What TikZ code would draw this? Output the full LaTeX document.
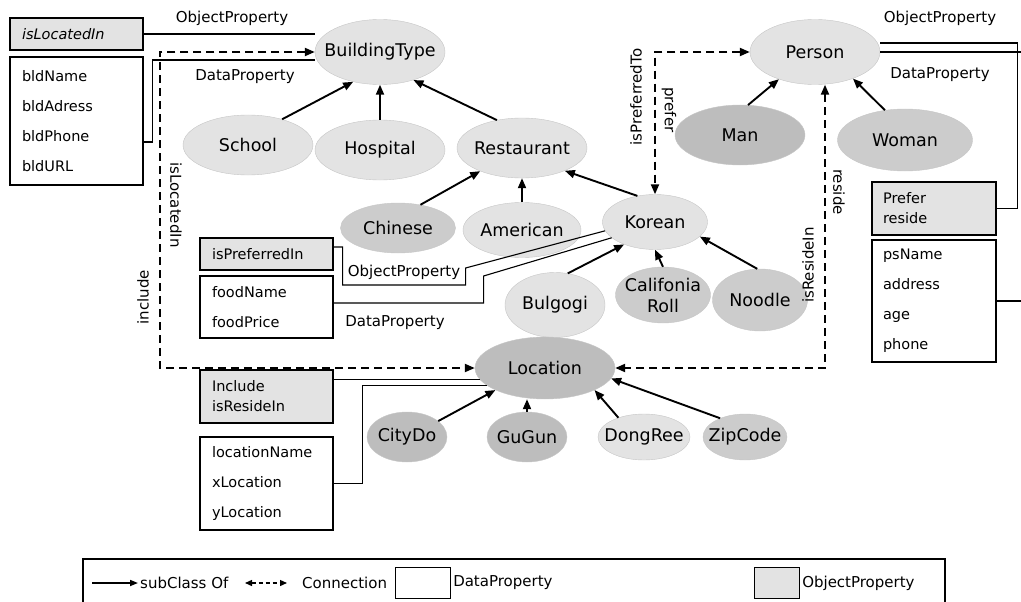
\documentclass[tikz,border=0pt]{standalone}
\usepackage{fontspec}
\setmainfont{DejaVu Sans}
\usetikzlibrary{shapes.geometric,arrows.meta,positioning}
\colorlet{clsLight}{gray!22}
\colorlet{clsMid}{gray!40}
\colorlet{clsDark}{gray!52}
\colorlet{objGray}{gray!22}
\tikzset{
  cls/.style n args={3}{ellipse,inner xsep=-70pt,inner ysep=0pt,draw=gray!45,fill=#1,
    minimum width=#2,minimum height=#3,align=center,
    font=\fontsize{17.5}{20}\selectfont},
  propbox/.style={draw,line width=1.2pt,align=left,inner xsep=12pt,
    text width=109pt,font=\fontsize{14.5}{30}\selectfont},
  objbox/.style={propbox,fill=objGray},
  databox/.style={propbox,fill=white},
  lbl/.style={inner sep=1pt,font=\fontsize{15}{17}\selectfont},
  subclass/.style={line width=1.9pt,-{Triangle[length=10pt,width=8pt]}},
  connect/.style={line width=2.1pt,dash pattern=on 8pt off 5pt,
    {Triangle[length=10pt,width=8pt]}-{Triangle[length=10pt,width=8pt]}},
  propline/.style={line width=1.1pt},
}

\begin{document}
\begin{tikzpicture}[x=1pt,y=-1pt]
\useasboundingbox (0,0) rectangle (1021,602);
\clip (0,0) rectangle (1021,602);

\node[cls={clsLight}{130pt}{65pt}] (bt) at (380,52) {BuildingType};
\node[cls={clsLight}{130pt}{60pt}] (school) at (248,145) {School};
\node[cls={clsLight}{130pt}{60pt}] (hospital) at (380,150) {Hospital};
\node[cls={clsLight}{130pt}{60pt}] (restaurant) at (522,148) {Restaurant};
\node[cls={clsMid}{115pt}{50pt}] (chinese) at (398,228) {Chinese};
\node[cls={clsLight}{118pt}{55pt}] (american) at (522,230) {American};
\node[cls={clsLight}{105pt}{55pt}] (korean) at (655,222) {Korean};
\node[cls={clsLight}{100pt}{65pt}] (bulgogi) at (555,305) {Bulgogi};
\node[cls={clsMid}{95pt}{56pt},font=\fontsize{17.5}{21}\selectfont] (roll) at (663,295) {Califonia\\Roll};
\node[cls={clsMid}{95pt}{62pt}] (noodle) at (760,300) {Noodle};
\node[cls={clsDark}{140pt}{62pt}] (loc) at (545,368) {Location};
\node[cls={clsDark}{80pt}{50pt}] (citydo) at (407,437) {CityDo};
\node[cls={clsDark}{80pt}{50pt}] (gugun) at (527,437) {GuGun};
\node[cls={clsLight}{92pt}{46pt}] (dongree) at (644,437) {DongRee};
\node[cls={clsMid}{84pt}{46pt}] (zipcode) at (745,437) {ZipCode};
\node[cls={clsLight}{130pt}{65pt}] (person) at (815,52) {Person};
\node[cls={clsDark}{130pt}{60pt}] (man) at (740,135) {Man};
\node[cls={clsMid}{135pt}{62pt}] (woman) at (905,140) {Woman};

\node[objbox,minimum height=32pt,font=\fontsize{14.5}{16}\selectfont\itshape] (isloc) at (76.5,34) {isLocatedIn};
\node[databox,minimum height=128pt] (bld) at (76.5,121) {bldName\\bldAdress\\bldPhone\\bldURL};
\node[objbox,minimum height=32pt,font=\fontsize{14.5}{16}\selectfont] (ispref) at (266.5,254) {isPreferredIn};
\node[databox,minimum height=62pt] (food) at (266.5,307) {foodName\\foodPrice};
\node[objbox,minimum height=53pt,font=\fontsize{14.5}{20}\selectfont] (incl) at (266.5,396.5) {Include\\isResideIn};
\node[databox,minimum height=93pt] (locdata) at (266.5,483.5) {locationName\\xLocation\\yLocation};
\node[objbox,minimum height=53pt,text width=102pt,inner xsep=11pt,font=\fontsize{14.5}{20}\selectfont] (prefer) at (934,208.5) {Prefer\\reside};
\node[databox,minimum height=122pt,text width=102pt,inner xsep=11pt] (psdata) at (934,301) {psName\\address\\age\\phone};

\draw[subclass] (school.37) -- (bt.228);
\draw[subclass] (hospital.north) -- (bt.south);
\draw[subclass] (restaurant.132) -- (bt.320);
\draw[subclass] (chinese.46) -- (restaurant.209);
\draw[subclass] (american.north) -- (restaurant.south);
\draw[subclass] (korean.124) -- (restaurant.332);
\draw[subclass] (bulgogi.68) -- (korean.216);
\draw[subclass] (roll.north) -- (korean.south);
\draw[subclass] (noodle.95) -- (korean.342);
\draw[subclass] (man.75) -- (person.217);
\draw[subclass] (woman.124) -- (person.325);
\draw[subclass] (citydo.27) -- (loc.204);
\draw[subclass] (gugun.north) -- (gugun.north |- loc.south);
\draw[subclass] (dongree.143) -- (loc.336);
\draw[subclass] (zipcode.143) -- (loc.351);

\draw[connect] (bt.west) -- ++(-155,0) |- (loc.west);
\node[lbl,rotate=-90] (lblLocatedIn) at (176,205) {isLocatedIn};
\node[lbl,rotate=90] (lblInclude) at (143,297) {include};
\draw[connect] (person.west) -| (korean.north);
\node[lbl,rotate=90] (lblPrefTo) at (636,97) {isPreferredTo};
\node[lbl,rotate=-90] (lblPrefer) at (669,110) {prefer};
\draw[connect] ([xshift=10pt]person.south) |- (loc.east);
\node[lbl,rotate=90] (lblResideIn) at (808,265) {isResideIn};
\node[lbl,rotate=-90] (lblReside) at (839,192) {reside};

\draw[propline] (isloc.east) -- (isloc.east -| bt.west);
\node[lbl] (opBt) at (232,18) {ObjectProperty};
\draw[propline] ([yshift=-21pt]bld.east) -- ++(9,0) |- ([yshift=-8pt]bt.west);
\node[lbl] (dpBt) at (245,77) {DataProperty};
\draw[propline] ([yshift=9pt]person.east) -- ++(137,0) |- (prefer.east);
\node[lbl] (opPerson) at (940,18) {ObjectProperty};
\draw[propline] (person.east) -- ++(150,0) |- (psdata.east);
\node[lbl] (dpPerson) at (940,75) {DataProperty};
\draw[propline] ([yshift=7pt]ispref.east) -- ++(9,0) -- ++(0,38) -- ++(123,0) -- ++(0,-17) -- (korean.190);
\node[lbl] (opKorean) at (404,272) {ObjectProperty};
\draw[propline] ([yshift=4pt]food.east) -- ++(150,0) -- ++(0,-27) -- (korean.200);
\node[lbl] (dpKorean) at (395,323) {DataProperty};
\draw[propline] (incl.east |- loc.190) -- (loc.190);
\draw[propline] (locdata.east) -- ++(29,0) |- (loc.197);

\draw[line width=1.1pt] (83,559) rectangle (945,615);
\coordinate (subA) at (92,583);
\coordinate (subB) at (138,583);
\draw[line width=1.6pt,-{Triangle[length=8pt,width=6pt]}] (subA) -- (subB);
\node[lbl,right=1pt of subB] (subTxt) {subClass Of};
\coordinate (conA) at (245,583);
\coordinate (conB) at (287,583);
\draw[line width=1.3pt,dash pattern=on 4pt off 3pt,{Triangle[length=7pt,width=6pt]}-{Triangle[length=7pt,width=6pt]}] (conA) -- (conB);
\node[lbl,right=14pt of conB] (conTxt) {Connection};
\node[draw,line width=1.1pt,minimum width=55pt,minimum height=31pt,inner sep=0pt] (dataKey) at (423,583) {};
\node[lbl,right=1pt of dataKey] (dataTxt) {DataProperty};
\node[draw,line width=1.1pt,fill=objGray,minimum width=45pt,minimum height=31pt,inner sep=0pt] (objKey) at (777,583) {};
\node[lbl,right=1pt of objKey] (objTxt) {ObjectProperty};
\end{tikzpicture}
\end{document}
